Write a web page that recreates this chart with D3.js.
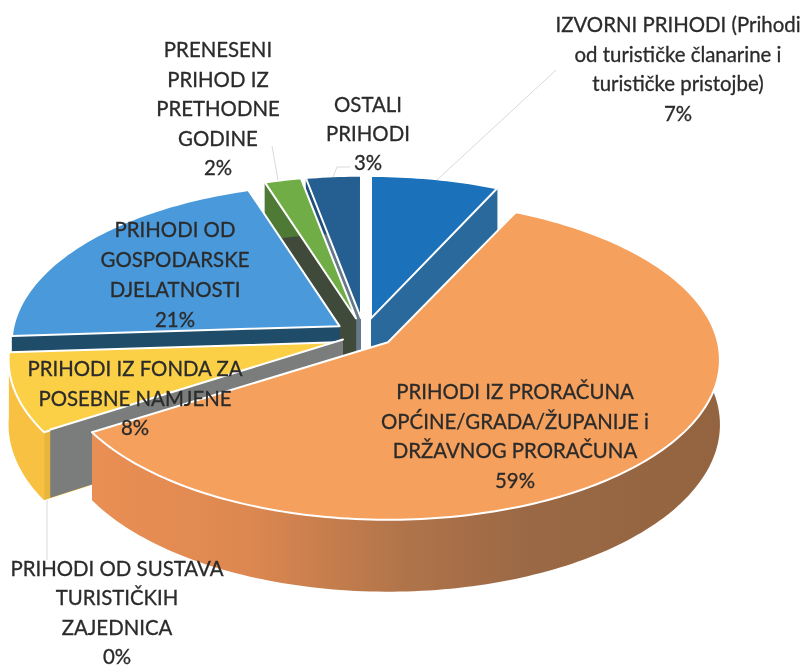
<!DOCTYPE html>
<html lang="hr">
<head>
<meta charset="UTF-8">
<title>Prihodi</title>
<script src="https://d3js.org/d3.v7.min.js"></script>
<style>
  html, body { margin: 0; padding: 0; background: #fff; }
  svg { display: block; filter: blur(0.4px); }
  text { font-family: Lato, "Open Sans", sans-serif; font-size: 20.4px; fill: #2b2b2b; stroke: #2b2b2b; stroke-width: 0.3px; text-anchor: middle; }
</style>
</head>
<body>
<div id="chart"></div>
<script>
const categories = [
  "IZVORNI PRIHODI", "PRIHODI IZ PRORAČUNA", "PRIHODI OD SUSTAVA TURISTIČKIH ZAJEDNICA",
  "PRIHODI IZ FONDA ZA POSEBNE NAMJENE", "PRIHODI OD GOSPODARSKE DJELATNOSTI",
  "PRENESENI PRIHOD IZ PRETHODNE GODINE", "OSTALI PRIHODI"
];
const values = [7, 59, 0, 8, 21, 2, 3];
const labelLines = [
  ["IZVORNI PRIHODI (Prihodi", "od turističke  članarine i", "turističke pristojbe)", "7%"],
  ["PRIHODI IZ PRORAČUNA", "OPĆINE/GRADA/ŽUPANIJE i", "DRŽAVNOG PRORAČUNA", "59%"],
  ["PRIHODI OD SUSTAVA", "TURISTIČKIH", "ZAJEDNICA", "0%"],
  ["PRIHODI IZ FONDA ZA", "POSEBNE NAMJENE", "8%"],
  ["PRIHODI OD", "GOSPODARSKE", "DJELATNOSTI", "21%"],
  ["PRENESENI", "PRIHOD IZ", "PRETHODNE", "GODINE", "2%"],
  ["OSTALI", "PRIHODI", "3%"]
];
const topColors = ["#1b72ba", "#f5a15d", "#8a8a8a", "#fbcf46", "#4a9adb", "#70ad47", "#255f91"];
const cutColors = ["#2a699b", "#c87a48", "#7b7d7d", "#e9b63c", "#1f4c69", "#3f4a3b", "#66788a"];
const wallColors = ["#2a699b", "url(#orangeWall)", "#7b7d7d", "#f8c142", "#1f4c69", "#4f7a35", "#1f4f7a"];

const width = 805, height = 667;
const center = { x: 364, y: 332 };
const Rx = 326, Ry = 158, persp = 0.11, thickness = 64;
const explodeX = 32, explodeY = 14;
// small per-slice corrections where the simple explode model drifts from the picture
const nudge = [[0, 0], [0, 1], [6, 0], [3, 6], [2, 2], [0, 0], [0, 0]];
const widen = [1, 1.012, 1, 1, 1, 1, 1];
// back to front
const drawOrder = [6, 5, 4, 3, 2, 0, 1];
const labelPos = [[678, 25, 29.7], [515, 392, 29.5], [117, 569, 29.3], [135, 369, 29.5], [175, 230, 30], [218, 50, 29.5], [368, 105, 29]];
const leaders = [
  [[437, 180], [556, 70]],
  [[47, 500], [47, 560]],
  [[278, 180], [272, 146]],
  [[333, 177], [337, 167], [350, 167]]
];

const svg = d3.select("#chart").append("svg").attr("width", width).attr("height", height);

const grad = svg.append("defs").append("linearGradient")
  .attr("id", "orangeWall").attr("gradientUnits", "userSpaceOnUse")
  .attr("x1", 90).attr("x2", 720).attr("y1", 0).attr("y2", 0);
grad.append("stop").attr("offset", 0).attr("stop-color", "#ea8f54");
grad.append("stop").attr("offset", 0.25).attr("stop-color", "#dd8850");
grad.append("stop").attr("offset", 0.5).attr("stop-color", "#b0744a");
grad.append("stop").attr("offset", 0.7).attr("stop-color", "#9a6845");
grad.append("stop").attr("offset", 1).attr("stop-color", "#93643f");

const x = d3.scaleLinear().domain([-1, 1]).range([-Rx, Rx]);
const y = d3.scaleLinear().domain([-1, 1]).range([-Ry, Ry]);
const line = d3.line();
const pie = d3.pie().sort(null).value(d => d);
const slices = pie(values);

// ground point on the unit disc -> screen, with a bit of perspective
function project(u, v, origin, drop) {
  const s = 1 / (1 - persp * v);
  return [origin.x + x(u) * origin.k * s, origin.y + y(v) * s + drop * s];
}
function rim(a, origin, drop) {
  return project(Math.sin(a), -Math.cos(a), origin, drop);
}
function arcPoints(a0, a1, origin, drop) {
  const n = Math.max(2, Math.ceil(Math.abs(a1 - a0) / 0.02));
  return d3.range(n + 1).map(i => rim(a0 + (a1 - a0) * i / n, origin, drop));
}

const gSlices = svg.append("g");
drawOrder.forEach(i => {
  const d = slices[i];
  const mid = (d.startAngle + d.endAngle) / 2;
  const origin = {
    x: center.x + explodeX * Math.sin(mid) + nudge[i][0],
    y: center.y - explodeY * Math.cos(mid) + nudge[i][1],
    k: widen[i]
  };
  const g = gSlices.append("g");
  const apexTop = project(0, 0, origin, 0);
  const apexLow = project(0, 0, origin, thickness);

  [d.startAngle, d.endAngle].forEach(a => {
    g.append("path")
      .attr("d", line([apexTop, rim(a, origin, 0), rim(a, origin, thickness), apexLow]) + "Z")
      .attr("fill", cutColors[i]);
  });
  if (d.endAngle > d.startAngle) {
    const outer = arcPoints(d.startAngle, d.endAngle, origin, 0)
      .concat(arcPoints(d.endAngle, d.startAngle, origin, thickness));
    g.append("path").attr("d", line(outer) + "Z").attr("fill", wallColors[i]);
  }
  const top = [apexTop].concat(arcPoints(d.startAngle, d.endAngle, origin, 0));
  g.append("path")
    .attr("d", line(top) + "Z")
    .attr("fill", topColors[i])
    .attr("stroke", "#fff").attr("stroke-width", 2).attr("stroke-linejoin", "round");
});

svg.append("g").selectAll("path").data(leaders).join("path")
  .attr("d", d => line(d))
  .attr("fill", "none").attr("stroke", "#d9d9d9").attr("stroke-width", 1);

const gLabels = svg.append("g");
labelLines.forEach((lines, i) => {
  const t = gLabels.append("text").attr("aria-label", categories[i] + " " + values[i] + "%");
  lines.forEach((txt, j) => {
    t.append("tspan")
      .attr("x", labelPos[i][0])
      .attr("y", labelPos[i][1] + j * labelPos[i][2] + 7)
      .text(txt);
  });
});
</script>
</body>
</html>
